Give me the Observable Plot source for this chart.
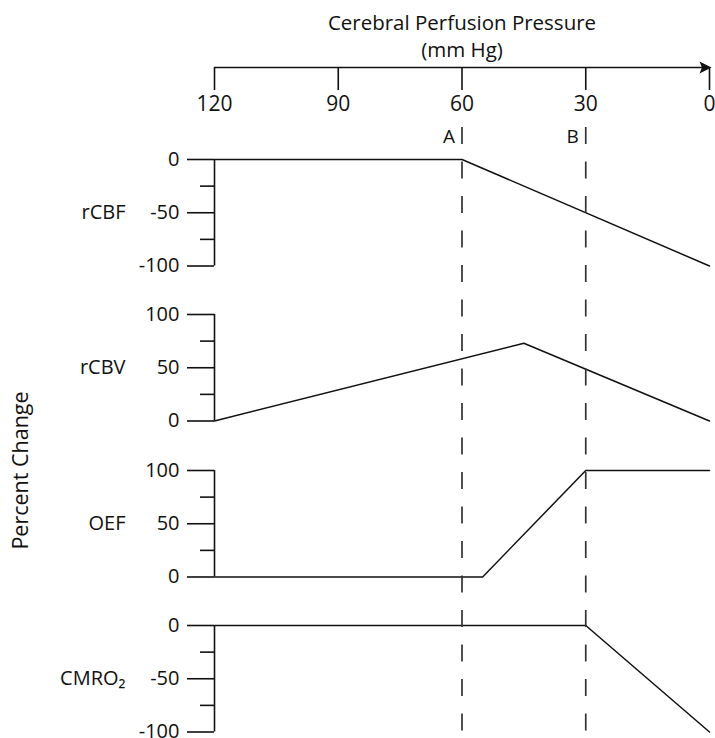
<!DOCTYPE html>
<html>
<head>
<meta charset="utf-8">
<script src="https://cdn.jsdelivr.net/npm/d3@7"></script>
<script src="https://cdn.jsdelivr.net/npm/@observablehq/plot@0.6"></script>
<style>
  html, body { margin: 0; padding: 0; background: #fff; }
  #chart { position: relative; width: 715px; height: 738px; font-family: "Open Sans", sans-serif; overflow: hidden; }
  #chart svg { position: absolute; left: 0; }
</style>
</head>
<body>
<div id="chart"></div>
<script>
// ---- data ----
const titleText = "Cerebral Perfusion Pressure\n(mm Hg)";
const yLabelText = "Percent Change";
const xTicks = [120, 90, 60, 30, 0];
const thresholds = [60, 30];
const thresholdLabels = ["A", "B"];

const panelNames = ["rCBF", "rCBV", "OEF", "CMRO₂"];
const panelDomains = [[-100, 0], [0, 100], [0, 100], [-100, 0]];
const panelMajorTicks = [[-100, -50, 0], [0, 50, 100], [0, 50, 100], [-100, -50, 0]];
const panelMinorTicks = [[-75, -25], [25, 75], [25, 75], [-75, -25]];
const panelLabelAt = [-50, 50, 50, -50];

const rCBF_x = [120, 60, 0];
const rCBF_y = [0, 0, -100];
const rCBV_x = [120, 45, 0];
const rCBV_y = [0, 73, 0];
const OEF_x = [120, 55, 30, 0];
const OEF_y = [0, 0, 100, 100];
const CMRO2_x = [120, 30, 0];
const CMRO2_y = [0, 0, -100];
const seriesX = [rCBF_x, rCBV_x, OEF_x, CMRO2_x];
const seriesY = [rCBF_y, rCBV_y, OEF_y, CMRO2_y];

// ---- layout ----
const W = 715, ML = 214, MR = 6;
const panelTops = [158.5, 314, 469.5, 624.5];
const panelH = 106.5, pad = 12;
const ink = "#111";
const font = "Open Sans";
const baseStyle = {background: "transparent", fontFamily: font, overflow: "visible", color: ink};
const xScale = {domain: [120, 0], axis: null};
const chart = document.getElementById("chart");

function place(svg, y) { svg.style.top = y + "px"; chart.appendChild(svg); }

// arrowhead symbol (tip at origin, pointing right)
const arrowHead = {
  draw(ctx) {
    ctx.moveTo(0, 0);
    ctx.lineTo(-12, -6);
    ctx.lineTo(-9.5, 0);
    ctx.lineTo(-12, 6);
    ctx.closePath();
  }
};

// top axis
const topPlot = Plot.plot({
  width: W, height: 120, marginTop: 0, marginBottom: 53, marginLeft: ML, marginRight: MR,
  x: xScale, y: {domain: [0, 1], axis: null},
  style: baseStyle,
  marks: [
    Plot.ruleY([0], {x1: 120, x2: 0, stroke: ink, strokeWidth: 1.6}),
    Plot.dot([0], {x: d => d, y: 0, symbol: arrowHead, fill: ink, stroke: "none", r: 5, dx: 2}),
    Plot.axisX({ticks: xTicks, anchor: "bottom", tickSize: 23, tickPadding: 6, tickFormat: d => String(d),
      fontSize: 21, stroke: ink, strokeWidth: 1.6, fill: ink, label: null}),
    Plot.text([titleText], {x: 60, frameAnchor: "top", lineAnchor: "top", dy: 11, fontSize: 20.5, lineHeight: 1.3, fill: ink})
  ]
});
place(topPlot, 0);

// panels
panelNames.forEach((name, i) => {
  const data = seriesX[i].map((x, j) => ({x, y: seriesY[i][j]}));
  const p = Plot.plot({
    width: W, height: panelH + 2 * pad, marginTop: pad, marginBottom: pad, marginLeft: ML, marginRight: MR,
    x: xScale, y: {domain: panelDomains[i], label: null},
    style: baseStyle,
    marks: [
      Plot.ruleX([120], {stroke: ink, strokeWidth: 1.6}),
      Plot.axisY({ticks: panelMajorTicks[i], tickSize: 27, tickPadding: 8, tickFormat: d => String(d),
        fontSize: 20, stroke: ink, strokeWidth: 1.6, fill: ink, label: null}),
      Plot.axisY({ticks: panelMinorTicks[i], tickSize: 14, tickFormat: () => "", stroke: ink, strokeWidth: 1.6, label: null}),
      Plot.line(data, {x: "x", y: "y", stroke: ink, strokeWidth: 1.5}),
      Plot.text([name], {frameAnchor: "left", y: () => panelLabelAt[i], dx: -89, textAnchor: "end", fontSize: 20, fill: ink})
    ]
  });
  place(p, panelTops[i] - pad);
});

// overlay: dashed thresholds, A/B labels, y label
const overlay = Plot.plot({
  width: W, height: 628, marginTop: 17, marginBottom: 0, marginLeft: ML, marginRight: MR,
  x: xScale,
  style: baseStyle,
  marks: [
    Plot.ruleX(thresholds, {stroke: "#333", strokeWidth: 1.7, strokeDasharray: "17,17.5"}),
    Plot.text(thresholds, {x: d => d, text: (d, i) => thresholdLabels[i], frameAnchor: "top", lineAnchor: "middle",
      dy: 9, dx: -7, textAnchor: "end", fontSize: 19, fill: ink}),
    Plot.text([yLabelText], {frameAnchor: "left", rotate: -90, dx: -193, dy: 37.5, textAnchor: "middle",
      lineAnchor: "middle", fontSize: 21.5, fill: ink})
  ]
});
place(overlay, 110);
</script>
</body>
</html>
